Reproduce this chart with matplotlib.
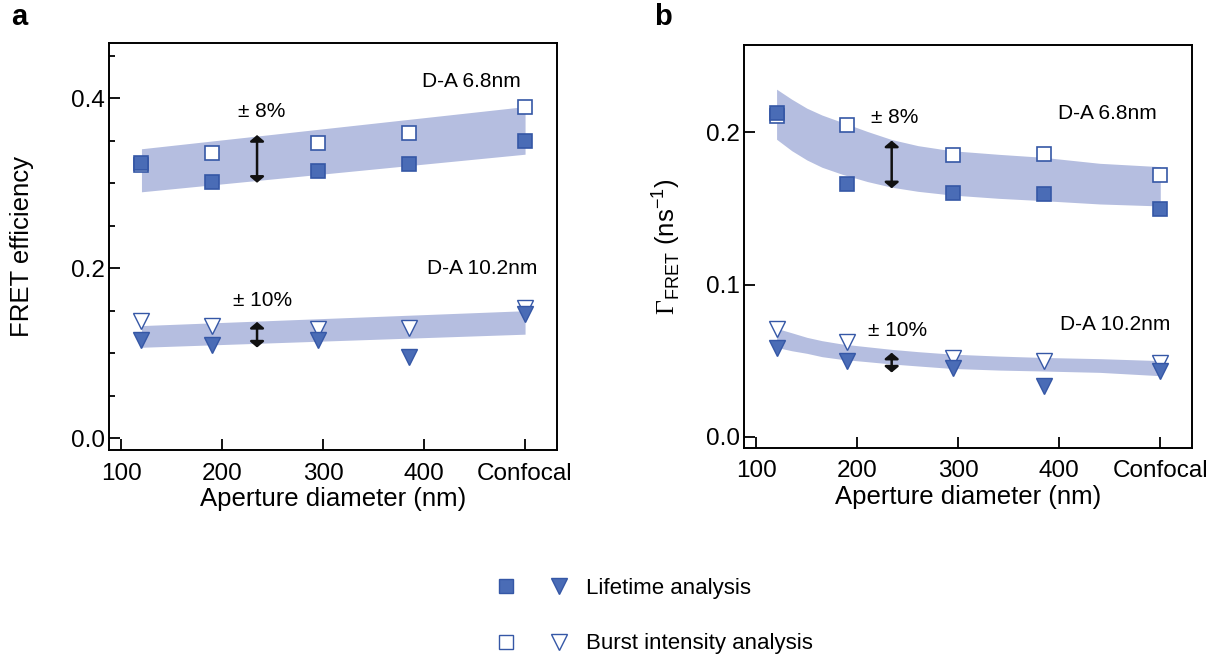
import matplotlib
matplotlib.use("Agg")
import matplotlib.pyplot as plt
from matplotlib.lines import Line2D
from matplotlib.legend_handler import HandlerTuple
from matplotlib.ticker import MultipleLocator

plt.rcParams['font.family'] = ['Liberation Sans', 'DejaVu Sans']
plt.rcParams['mathtext.fontset'] = 'custom'
plt.rcParams['mathtext.rm'] = 'Liberation Serif'
plt.rcParams['mathtext.sf'] = 'Liberation Sans'

# aperture positions (confocal drawn at 500)
x = [120, 190, 295, 385, 500]
xticks = [100, 200, 300, 400, 500]
xticklabels = ['100', '200', '300', '400', 'Confocal']

# panel a: FRET efficiency
a_sq_life = [0.324, 0.301, 0.3145, 0.3227, 0.350]
a_sq_burst = [0.321, 0.335, 0.3467, 0.3584, 0.3898]
a_tri_life = [0.1157, 0.110, 0.115, 0.096, 0.146]
a_tri_burst = [0.138, 0.132, 0.129, 0.130, 0.153]
a_band_x = [120, 500]
a_band68_hi = [0.3404, 0.390]
a_band68_lo = [0.2898, 0.334]
a_band102_hi = [0.1325, 0.150]
a_band102_lo = [0.107, 0.1224]

# panel b: FRET rate
b_sq_life = [0.2125, 0.1658, 0.1603, 0.1592, 0.1496]
b_sq_burst = [0.211, 0.2048, 0.185, 0.186, 0.172]
b_tri_life = [0.058, 0.0497, 0.0453, 0.0335, 0.0434]
b_tri_burst = [0.0705, 0.062, 0.052, 0.050, 0.0486]
b_band_x = [120, 135, 150, 165, 185, 210, 234, 260, 293, 340, 383, 440, 500]
b_band68_hi = [0.2283, 0.2217, 0.2158, 0.2113, 0.2065, 0.2005, 0.1952, 0.1912,
               0.1879, 0.1855, 0.1836, 0.1796, 0.1774]
b_band68_lo = [0.1954, 0.1879, 0.1818, 0.1770, 0.1724, 0.1676, 0.1639, 0.1612,
               0.1588, 0.1566, 0.1551, 0.1529, 0.1516]
b_band102_hi = [0.0712, 0.0683, 0.0653, 0.0631, 0.0609, 0.0591, 0.0574, 0.0559,
                0.0543, 0.0530, 0.0521, 0.0513, 0.0500]
b_band102_lo = [0.0587, 0.0565, 0.0548, 0.0526, 0.0508, 0.0493, 0.0478, 0.0465,
                0.0449, 0.0438, 0.0432, 0.0423, 0.0401]

band_col = '#b5bee0'
fill_col = '#4a6cb6'
edge_col = '#3557a6'

fig = plt.figure(figsize=(12.19, 6.59), dpi=100)
ax_a = fig.add_axes([0.0893, 0.3171, 0.3676, 0.6176])
ax_b = fig.add_axes([0.6103, 0.3206, 0.3677, 0.6111])


def draw_panel(ax, sq_life, sq_burst, tri_life, tri_burst, bx, b68hi, b68lo, b102hi, b102lo):
    ax.fill_between(bx, b68lo, b68hi, color=band_col, lw=0, zorder=1)
    ax.fill_between(bx, b102lo, b102hi, color=band_col, lw=0, zorder=1)
    ax.plot(x, sq_burst, 's', ms=10.5, mfc='white', mec=edge_col, mew=1.2, zorder=3)
    ax.plot(x, sq_life, 's', ms=10.5, mfc=fill_col, mec=edge_col, mew=1.2, zorder=4)
    ax.plot(x, tri_burst, 'v', ms=11, mfc='white', mec=edge_col, mew=1.0, zorder=3)
    ax.plot(x, tri_life, 'v', ms=11, mfc=fill_col, mec=edge_col, mew=1.0, zorder=4)
    ax.set_xticks(xticks)
    ax.set_xticklabels(xticklabels)
    ax.set_xlim(87.7, 531.6)
    ax.tick_params(which='major', direction='in', length=8, width=1.3, labelsize=17.5)
    ax.tick_params(axis='x', pad=9)
    ax.tick_params(axis='y', pad=3)
    ax.tick_params(which='minor', direction='in', length=4.5, width=1.3)
    for s in ax.spines.values():
        s.set_linewidth(1.4)
    ax.set_xlabel('Aperture diameter (nm)', fontsize=18.5, labelpad=2)


def arrow(ax, xa, y0, y1):
    ax.annotate('', xy=(xa, y1), xytext=(xa, y0),
                arrowprops=dict(arrowstyle='<|-|>,head_length=0.25,head_width=0.3',
                                color='#111111', lw=1.8, mutation_scale=14,
                                shrinkA=0, shrinkB=0), zorder=5)


# panel a
draw_panel(ax_a, a_sq_life, a_sq_burst, a_tri_life, a_tri_burst, a_band_x,
           a_band68_hi, a_band68_lo, a_band102_hi, a_band102_lo)
ax_a.set_ylim(-0.0138, 0.4647)
ax_a.set_yticks([0.0, 0.2, 0.4])
ax_a.set_yticklabels(['0.0', '0.2', '0.4'])
ax_a.yaxis.set_minor_locator(MultipleLocator(0.05))
ax_a.set_ylabel('FRET efficiency', fontsize=18.5)
ax_a.yaxis.set_label_coords(-0.167, 0.5)
arrow(ax_a, 234.5, 0.3004, 0.3565)
arrow(ax_a, 234.5, 0.1067, 0.1368)
ax_a.text(215.5, 0.384, '± 8%', fontsize=15, va='center', ha='left')
ax_a.text(210.5, 0.1624, '± 10%', fontsize=15, va='center', ha='left')
ax_a.text(496, 0.42, 'D-A 6.8nm', fontsize=15, va='center', ha='right')
ax_a.text(512, 0.1996, 'D-A 10.2nm', fontsize=15, va='center', ha='right')

# panel b
draw_panel(ax_b, b_sq_life, b_sq_burst, b_tri_life, b_tri_burst, b_band_x,
           b_band68_hi, b_band68_lo, b_band102_hi, b_band102_lo)
ax_b.set_ylim(-0.0072, 0.2573)
ax_b.set_yticks([0.0, 0.1, 0.2])
ax_b.set_yticklabels(['0.0', '0.1', '0.2'])
ax_b.set_ylabel(r'$\Gamma_{\mathsf{FRET}}$ (ns$^{\mathsf{-1}}$)', fontsize=18.5)
ax_b.yaxis.set_label_coords(-0.138, 0.5)
arrow(ax_b, 234, 0.1632, 0.1945)
arrow(ax_b, 234, 0.0422, 0.0552)
ax_b.text(214, 0.2099, '± 8%', fontsize=15, va='center', ha='left')
ax_b.text(211, 0.0697, '± 10%', fontsize=15, va='center', ha='left')
ax_b.text(497, 0.2125, 'D-A 6.8nm', fontsize=15, va='center', ha='right')
ax_b.text(510, 0.074, 'D-A 10.2nm', fontsize=15, va='center', ha='right')

# panel letters
fig.text(0.0095, 0.995, 'a', fontsize=21, fontweight='bold', va='top')
fig.text(0.537, 0.995, 'b', fontsize=21, fontweight='bold', va='top')

# legend
h_life = (Line2D([], [], ls='none', marker='s', ms=10.5, mfc=fill_col, mec=edge_col),
          Line2D([], [], ls='none', marker='v', ms=11, mfc=fill_col, mec=edge_col))
h_burst = (Line2D([], [], ls='none', marker='s', ms=10.5, mfc='white', mec=edge_col),
           Line2D([], [], ls='none', marker='v', ms=11, mfc='white', mec=edge_col))
fig.legend([h_life, h_burst], ['Lifetime analysis', 'Burst intensity analysis'],
           handler_map={tuple: HandlerTuple(ndivide=None, pad=1.0)},
           loc='center left', bbox_to_anchor=(490.6 / 1219, 1 - 616 / 659),
           frameon=False, fontsize=16, handlelength=3.77, handletextpad=0.52,
           labelspacing=1.57, borderpad=0, borderaxespad=0)

fig.savefig('out.png', dpi=100)
